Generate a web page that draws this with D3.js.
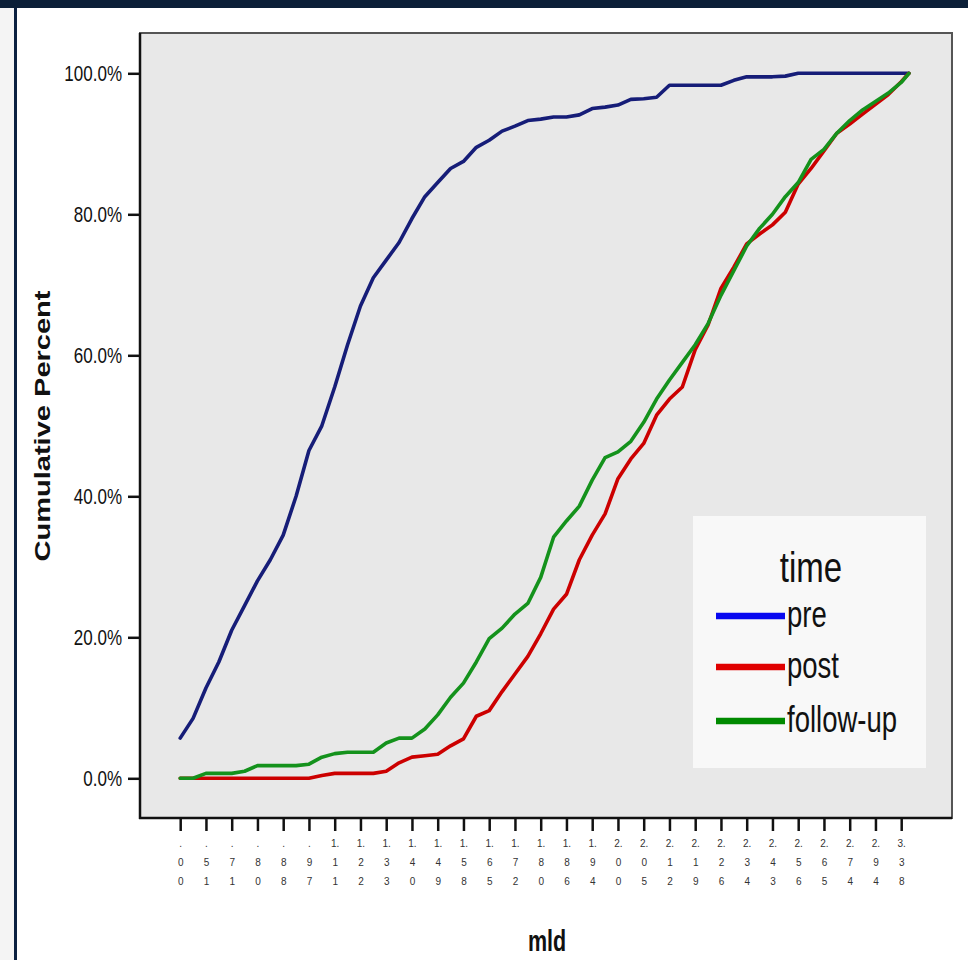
<!DOCTYPE html>
<html>
<head>
<meta charset="utf-8">
<script src="https://cdn.jsdelivr.net/npm/d3@7"></script>
<style>
  html, body { margin: 0; padding: 0; background: #ffffff; }
  svg { display: block; font-family: "Liberation Sans", Arial, sans-serif; }
</style>
</head>
<body>
<svg id="chart" width="968" height="960"></svg>
<script>
// ---- data ----
const tickLabels = [".00", ".51", ".71", ".80", ".88", ".97", "1.11", "1.22", "1.33", "1.40",
  "1.49", "1.58", "1.65", "1.72", "1.80", "1.86", "1.94", "2.00", "2.05", "2.12",
  "2.19", "2.26", "2.34", "2.43", "2.56", "2.65", "2.74", "2.94", "3.38"];

// positions along the category axis (in units of labelled ticks)
const samplePos = [0, 0.5, 1, 1.5, 2, 2.5, 3, 3.5, 4, 4.5, 5, 5.5, 6, 6.5, 7, 7.5, 8, 8.5, 9, 9.5,
  10, 10.5, 11, 11.5, 12, 12.5, 13, 13.5, 14, 14.5, 15, 15.5, 16, 16.5, 17, 17.5, 18, 18.5, 19, 19.5,
  20, 20.5, 21, 21.5, 22, 22.5, 23, 23.5, 24, 24.5, 25, 25.5, 26, 26.5, 27, 27.5, 28, 28.3];

const preValues = [5.7, 8.5, 12.8, 16.5, 21, 24.5, 28, 31, 34.5, 40, 46.5, 50, 55.5, 61.5, 67, 71, 73.5, 76, 79.4, 82.5,
  84.5, 86.5, 87.5, 89.5, 90.5, 91.8, 92.5, 93.3, 93.5, 93.8, 93.8, 94.1, 95.0, 95.2, 95.5, 96.3, 96.4, 96.6, 98.3, 98.3,
  98.3, 98.3, 98.3, 99.0, 99.5, 99.5, 99.5, 99.6, 100, 100, 100, 100, 100, 100, 100, 100, 100, 100];

const postValues = [0, 0, 0, 0, 0, 0, 0, 0, 0, 0, 0, 0.4, 0.7, 0.7, 0.7, 0.7, 1.0, 2.2, 3.0, 3.2,
  3.4, 4.6, 5.6, 8.8, 9.6, 12.3, 14.8, 17.3, 20.5, 24, 26.1, 31, 34.5, 37.5, 42.5, 45.3, 47.5, 51.5, 53.8, 55.5,
  60.8, 64.3, 69.5, 72.5, 75.8, 77.2, 78.5, 80.3, 84.3, 86.5, 89, 91.5, 92.8, 94.2, 95.6, 97.0, 98.8, 100];

const followValues = [0, 0, 0.7, 0.7, 0.7, 1.0, 1.8, 1.8, 1.8, 1.8, 2.0, 3.0, 3.5, 3.7, 3.7, 3.7, 5.0, 5.7, 5.7, 7.0,
  9.0, 11.5, 13.5, 16.5, 19.8, 21.3, 23.3, 24.8, 28.5, 34.2, 36.5, 38.6, 42.3, 45.5, 46.3, 47.8, 50.5, 53.8, 56.5, 59,
  61.5, 64.5, 68.5, 72, 75.5, 78, 80, 82.5, 84.5, 87.8, 89.2, 91.5, 93.3, 94.8, 96, 97.2, 98.7, 100];

const seriesNames = ["pre", "post", "follow-up"];
const yTicks = [0, 20, 40, 60, 80, 100];

// ---- layout / style ----
const lineColors = ["#161d78", "#cc0000", "#14921c"];
const swatchColors = ["#0808f0", "#e00000", "#008a00"];
const plot = { left: 140, top: 33, right: 952, bottom: 818 };

const svg = d3.select("#chart");

// page decoration
svg.append("rect").attr("x", 0).attr("y", 0).attr("width", 14).attr("height", 960).attr("fill", "#f4f4f4");
svg.append("rect").attr("x", 14).attr("y", 0).attr("width", 3).attr("height", 960).attr("fill", "#0b2140");
svg.append("rect").attr("x", 0).attr("y", 0).attr("width", 968).attr("height", 8).attr("fill", "#0b1f38");

const x = d3.scaleLinear().domain([0, 28]).range([180.2, 901.2]);
const y = d3.scaleLinear().domain([0, 100]).range([778.3, 73.3]);

// plot background + frame
svg.append("rect")
  .attr("x", plot.left).attr("y", plot.top)
  .attr("width", plot.right - plot.left).attr("height", plot.bottom - plot.top)
  .attr("fill", "#e8e8e8").attr("stroke", "#555").attr("stroke-width", 2);

// lines
const seriesData = [preValues, postValues, followValues].map(vals => vals.map((v, i) => [samplePos[i], v]));
const line = d3.line().x(d => x(d[0])).y(d => y(d[1])).curve(d3.curveLinear);

seriesData.forEach((data, k) => {
  svg.append("path")
    .datum(data)
    .attr("d", line)
    .attr("fill", "none")
    .attr("stroke", lineColors[k])
    .attr("stroke-width", 3.6)
    .attr("stroke-linejoin", "round")
    .attr("stroke-linecap", "round");
});

// left & bottom axis lines
svg.append("line").attr("x1", plot.left).attr("x2", plot.left).attr("y1", plot.top).attr("y2", plot.bottom + 1)
  .attr("stroke", "#111").attr("stroke-width", 2.5);
svg.append("line").attr("x1", plot.left - 1).attr("x2", plot.right).attr("y1", plot.bottom).attr("y2", plot.bottom)
  .attr("stroke", "#111").attr("stroke-width", 2.5);

// y axis
const yAxis = d3.axisLeft(y).tickValues(yTicks).tickFormat(d => d.toFixed(1) + "%").tickSize(12).tickSizeOuter(0).tickPadding(6);
const gy = svg.append("g").attr("transform", `translate(${plot.left},0)`).call(yAxis);
gy.select(".domain").remove();
gy.selectAll(".tick line").attr("stroke", "#111").attr("stroke-width", 2.5);
gy.selectAll(".tick text")
  .attr("font-size", 17).attr("fill", "#111")
  .attr("font-family", "'Liberation Sans', Arial, sans-serif")
  .attr("transform", "scale(1,1.25)");

// x axis
const xAxis = d3.axisBottom(x).tickValues(d3.range(tickLabels.length)).tickFormat(i => tickLabels[i]).tickSize(13).tickSizeOuter(0);
const gx = svg.append("g").attr("transform", `translate(0,${plot.bottom})`).call(xAxis);
gx.select(".domain").remove();
gx.selectAll(".tick line").attr("stroke", "#111").attr("stroke-width", 2.5);
gx.selectAll(".tick text").each(function (i) {
  const lab = tickLabels[i];
  const dot = lab.indexOf(".");
  const lines = [lab.slice(0, dot + 1)].concat(lab.slice(dot + 1).split(""));
  const t = d3.select(this).text(null).attr("y", 0).attr("dy", null)
    .attr("font-size", 10).attr("fill", "#333")
    .attr("font-family", "'Liberation Sans', Arial, sans-serif");
  lines.forEach((s, j) => {
    t.append("tspan").attr("x", 0).attr("y", 29 + j * 19).text(s);
  });
});

// axis titles
svg.append("text")
  .attr("transform", "translate(50,426) rotate(-90) scale(1.32,1)")
  .attr("text-anchor", "middle")
  .attr("font-size", 22).attr("font-weight", "bold").attr("fill", "#111")
  .text("Cumulative Percent");

svg.append("text")
  .attr("transform", "translate(547,951) scale(1,1.35)")
  .attr("text-anchor", "middle")
  .attr("font-size", 21.5).attr("font-weight", "bold").attr("fill", "#111")
  .text("mld");

// legend
const lg = svg.append("g");
lg.append("rect").attr("x", 693).attr("y", 516).attr("width", 233).attr("height", 252).attr("fill", "#f8f8f8");
lg.append("text")
  .attr("transform", "translate(811,582) scale(1,1.3)")
  .attr("text-anchor", "middle").attr("font-size", 33).attr("fill", "#111")
  .text("time");
const legendY = [616, 667, 721];
seriesNames.forEach((name, k) => {
  lg.append("line")
    .attr("x1", 716).attr("x2", 785).attr("y1", legendY[k]).attr("y2", legendY[k])
    .attr("stroke", swatchColors[k]).attr("stroke-width", 6.5);
  lg.append("text")
    .attr("transform", `translate(787,${legendY[k] + 11}) scale(1,1.35)`)
    .attr("font-size", 27.5).attr("fill", "#111")
    .text(name);
});
</script>
</body>
</html>
